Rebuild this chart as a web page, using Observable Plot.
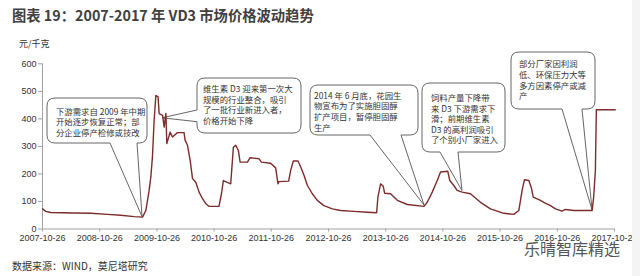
<!DOCTYPE html>
<html><head><meta charset="utf-8">
<script src="https://cdn.jsdelivr.net/npm/d3@7"></script>
<script src="https://cdn.jsdelivr.net/npm/@observablehq/plot@0.6"></script>
<style>
body{margin:0;background:#fff;}
#wrap{position:relative;width:640px;height:276px;overflow:hidden;background:#fff;}
#title{height:30px;line-height:30px;padding-left:12px;font-weight:bold;font-size:14.3px;font-family:"Noto Sans CJK SC",sans-serif;color:#404040;white-space:nowrap;}
#caption{height:21px;line-height:21px;padding-left:12px;font-size:10px;font-family:"Noto Sans CJK SC",sans-serif;color:#333;}
#wm{position:absolute;left:524px;top:239px;font-size:16px;line-height:18px;font-family:"Noto Sans CJK SC",sans-serif;color:#555;}
#edge{position:absolute;left:632px;top:0;width:8px;height:276px;background:#f4f4f4;}
svg{overflow:visible;}
</style></head>
<body>
<div id="wrap">
<div id="title">图表 19：2007-2017 年 VD3 市场价格波动趋势</div>
<div id="chart"></div>
<div id="caption">数据来源：WIND，莫尼塔研究</div>
<div id="wm">乐晴智库精选</div>
<div id="edge"></div>
</div>
<script>
// ---- data ----
const xTickLabels = ["2007-10-26","2008-10-26","2009-10-26","2010-10-26","2011-10-26","2012-10-26","2013-10-26","2014-10-26","2015-10-26","2016-10-26","2017-10-26"];
const yTicks = [0,100,200,300,400,500,600];
const yUnit = "元/千克";
const dates = [
"2007-10-26","2007-11-16","2007-12-18","2008-05-16","2008-08-30","2008-12-14","2009-03-09","2009-06-03","2009-07-26","2009-08-16",
"2009-09-06","2009-09-17","2009-09-27","2009-10-08","2009-10-19","2009-11-02","2009-11-09","2009-12-01","2009-12-11","2009-12-22",
"2009-12-28","2010-01-18","2010-02-02","2010-03-06","2010-04-17","2010-04-24","2010-05-09","2010-05-26","2010-06-10","2010-07-01",
"2010-07-22","2010-08-13","2010-09-03","2010-09-24","2010-11-26","2010-12-12","2010-12-24","2011-01-14","2011-02-09","2011-02-26",
"2011-03-13","2011-03-30","2011-04-10","2011-05-27","2011-06-13","2011-08-09","2011-08-24","2011-10-22","2011-11-23","2011-12-08",
"2011-12-14","2012-02-14","2012-02-27","2012-03-15","2012-04-14","2012-05-01","2012-05-22","2012-06-13","2012-07-14","2012-08-15",
"2012-09-26","2012-11-19","2013-01-11","2013-04-06","2013-07-01","2013-08-29","2013-09-06","2013-09-23","2013-10-10","2013-10-19",
"2013-11-26","2014-01-08","2014-03-13","2014-06-27","2014-07-18","2014-08-19","2014-09-20","2014-10-11","2014-11-26","2014-12-09",
"2015-01-04","2015-01-25","2015-02-26","2015-04-20","2015-06-23","2015-08-26","2015-11-19","2016-01-22","2016-02-23","2016-03-15",
"2016-03-30","2016-04-27","2016-05-12","2016-05-25","2016-07-10","2016-07-31","2016-09-12","2016-10-14","2016-11-25","2016-12-16",
"2017-02-08","2017-06-05","2017-06-15","2017-06-26","2017-07-02","2017-10-31"];
const prices = [
73,64,60,58,57,53,50,45,43,67,
140,190,261,395,485,480,419,413,370,420,
310,352,334,350,350,322,304,249,183,170,
134,110,92,82,82,128,176,170,164,297,
304,285,243,243,259,255,243,239,222,164,
172,174,213,247,247,225,195,158,128,104,
85,73,67,64,61,59,116,164,155,130,
128,104,89,82,97,134,176,207,210,176,
158,140,134,128,97,73,57,53,67,140,
179,176,152,116,104,97,85,73,65,71,
67,67,116,213,433,433];

// ---- annotations ----
const noteTexts = [
  ["下游需求自 2009 年中期","开始逐步恢复正常；部","分企业停产检修或技改"],
  ["维生素 D3 迎来第一次大","规模的行业整合，吸引","了一批行业新进入者，","价格开始下降"],
  ["2014 年 6 月底，花园生","物宣布为了实施胆固醇","扩产项目，暂停胆固醇","生产"],
  ["饲料产量下降带","来 D3 下游需求下","滑；前期维生素","D3 的高利润吸引","了个别小厂家进入"],
  ["部分厂家因利润","低、环保压力大等","多方因素停产或减","产"]
];
const noteTipDates = ["2009-07-26","2009-12-01","2014-07-01","2015-02-28","2017-06-08"];
const noteTipValues = [43,402,85,138,67];

// layout (pixels in svg space)
const noteLayout = [
  {x0:47,y0:68,x1:147,y1:113,side:"bottom",b1:110,b2:137,tx:56,ty:81.7,lh:10.8},
  {x0:197,y0:48,x1:301,y1:103,side:"left",b1:80,b2:91.7,tx:203,ty:59,lh:10.7},
  {x0:310,y0:55,x1:418,y1:105,side:"bottom",b1:370,b2:401,tx:314,ty:65.6,lh:10.7},
  {x0:422,y0:53,x1:505,y1:122,side:"bottom",b1:440,b2:458,tx:431,ty:68.5,lh:10.5},
  {x0:511,y0:22,x1:595,y1:79,side:"bottom",b1:562,b2:582,tx:519,ty:34,lh:10.8}
];

const data = dates.map((d,i)=>({date:new Date(d), price:prices[i]}));
const xt = xTickLabels.map(d=>new Date(d));

const chart = Plot.plot({
  width:640, height:225,
  marginLeft:42, marginRight:26, marginTop:33.3, marginBottom:26.5,
  style:{fontFamily:'"Liberation Sans", Arial, sans-serif', fontSize:"9px", color:"#333", background:"transparent", overflow:"visible"},
  x:{type:"utc", domain:[xt[0], xt[xt.length-1]]},
  y:{domain:[0,600]},
  marks:[
    Plot.ruleY([0], {stroke:"#a0a0a0"}),
    Plot.ruleX([xt[0]], {stroke:"#a0a0a0"}),
    Plot.axisX({ticks:xt, tickFormat:d3.utcFormat("%Y-%m-%d"), tickSize:3, tickPadding:3, stroke:"#a0a0a0", fill:"#333", label:null}),
    Plot.axisY({ticks:yTicks, tickSize:4, tickPadding:2, stroke:"#a0a0a0", fill:"#333", label:null}),
    Plot.lineY(data, {x:"date", y:"price", stroke:"#7d2b2b", strokeWidth:1.4})
  ]
});
document.getElementById("chart").appendChild(chart);

const svg = d3.select(chart);
const sx = chart.scale("x"), sy = chart.scale("y");

svg.append("text").attr("x",19).attr("y",14).attr("dy","0.35em").attr("text-anchor","start")
  .style("font-family",'"Noto Sans CJK SC", sans-serif').style("font-size","9px").attr("fill","#333").text(yUnit);

function bubble(b, tip){
  const {x0,y0,x1,y1} = b, r = 8;
  let p = `M${x0+r},${y0}H${x1-r}Q${x1},${y0} ${x1},${y0+r}V${y1-r}Q${x1},${y1} ${x1-r},${y1}`;
  if (b.side==="bottom") p += `H${b.b2}L${tip[0]},${tip[1]}L${b.b1},${y1}`;
  p += `H${x0+r}Q${x0},${y1} ${x0},${y1-r}`;
  if (b.side==="left") p += `V${b.b2}L${tip[0]},${tip[1]}L${x0},${b.b1}`;
  p += `V${y0+r}Q${x0},${y0} ${x0+r},${y0}Z`;
  return p;
}

const lineG = svg.select('g[aria-label="line"]').node();
const g = svg.insert("g", () => lineG).attr("text-anchor","start");
noteLayout.forEach((b,i)=>{
  const tip = [sx.apply(new Date(noteTipDates[i])), sy.apply(noteTipValues[i])];
  g.append("path").attr("d", bubble(b, tip)).attr("fill","#fff").attr("stroke","#555").attr("stroke-width",0.9);
  noteTexts[i].forEach((t,j)=>{
    g.append("text").attr("x",b.tx).attr("y",b.ty + j*b.lh).attr("dy","0.35em").attr("text-anchor","start")
      .style("font-family",'"Noto Sans CJK SC", sans-serif').style("font-size","8.4px")
      .attr("fill","#333").text(t);
  });
});
</script>
</body></html>
